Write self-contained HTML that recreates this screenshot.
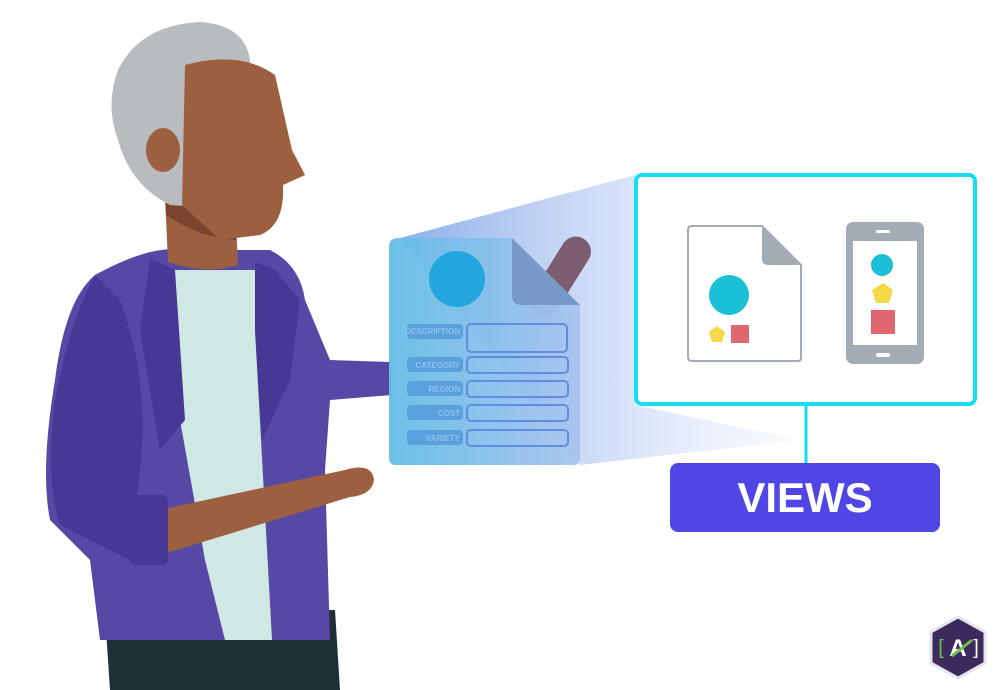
<!DOCTYPE html>
<html><head><style>body{margin:0;background:#fff}svg{display:block}</style></head><body>
<svg width="1001" height="690" viewBox="0 0 1001 690" xmlns="http://www.w3.org/2000/svg" font-family="Liberation Sans, sans-serif">
<defs>
<linearGradient id="beam" x1="0" y1="0" x2="1" y2="0"><stop offset="0" stop-color="#7fa6e8" stop-opacity="0.9"/><stop offset="1" stop-color="#c8d4f8" stop-opacity="0.1"/></linearGradient>
<linearGradient id="form" x1="0" y1="0" x2="1" y2="0"><stop offset="0" stop-color="#63bde6"/><stop offset="1" stop-color="#a9c3ef"/></linearGradient>
</defs>
<!-- beam -->
<polygon points="400,238 635,175 635,405 800,440 580,465" fill="url(#beam)"/>
<!-- pants -->
<polygon points="105,615 335,610 340,690 110,690" fill="#1e3035"/>
<!-- jacket body -->
<path d="M95,275 Q150,245 180,250 L270,250 Q300,265 305,300 L330,360 L390,362 L392,395 L330,400 L325,470 L330,640 L100,640 L90,560 L50,520 Q40,470 55,380 Q65,300 95,275 Z" fill="#5748a6"/>
<path d="M95,275 Q70,320 55,400 Q45,480 60,525 L130,560 L140,470 Q150,380 120,300 Z" fill="#473896"/>
<!-- shirt -->
<polygon points="170,270 265,270 255,330 272,640 225,640 205,560 180,420 175,340" fill="#cfe8e4"/>
<!-- lapels -->
<polygon points="150,258 175,270 185,420 160,450 140,330" fill="#473896"/>
<polygon points="255,262 275,270 300,300 290,380 262,440 255,330" fill="#473896"/>
<!-- neck -->
<path d="M165,195 L235,200 L238,265 Q205,275 168,262 Z" fill="#9c5f3f"/>
<path d="M165,195 L235,200 L236,240 Q200,238 166,215 Z" fill="#7a4430"/>
<!-- hair -->
<path d="M118,70 Q140,25 200,22 Q245,25 250,60 L240,210 L170,205 Q130,185 118,140 Q105,105 118,70 Z" fill="#b9bcbf"/>
<!-- face -->
<path d="M185,65 Q240,50 275,75 L292,150 L305,175 L283,185 Q285,225 260,235 L220,240 L182,205 Z" fill="#9c5f3f"/>
<ellipse cx="163" cy="150" rx="17" ry="22" fill="#9c5f3f"/>
<!-- lower arm -->
<path d="M150,512 L345,470 Q372,462 374,480 Q372,495 350,497 L160,555 Z" fill="#9c5f3f"/>
<rect x="130" y="495" width="38" height="70" rx="6" fill="#473896"/>
<!-- thumb behind form -->
<rect x="545" y="232" width="30" height="90" rx="15" transform="rotate(32 560 277)" fill="#7d5e70"/>
<!-- form -->
<path d="M398,238 L512,238 L580,305 L580,458 Q580,465 573,465 L396,465 Q389,465 389,458 L389,247 Q389,238 398,238 Z" fill="url(#form)" opacity="0.95"/>
<path d="M512,238 L580,305 L522,305 Q512,305 512,295 Z" fill="#7899c8"/>
<circle cx="457" cy="279" r="28" fill="#22a6dd"/>
<g fill="#5aa0dc"><rect x="407" y="324" width="56" height="15" rx="4"/><rect x="407" y="357" width="56" height="15" rx="4"/><rect x="407" y="381" width="56" height="15" rx="4"/><rect x="407" y="405" width="56" height="15" rx="4"/><rect x="407" y="430" width="56" height="15" rx="4"/></g>
<g fill="none" stroke="#5f8ee0" stroke-width="2"><rect x="467" y="324" width="100" height="28" rx="4"/><rect x="467" y="357" width="101" height="16" rx="4"/><rect x="467" y="381" width="101" height="16" rx="4"/><rect x="467" y="405" width="101" height="16" rx="4"/><rect x="467" y="430" width="101" height="16" rx="4"/></g>
<g fill="#8cc0ee" font-size="8" font-weight="bold" text-anchor="end"><text x="460" y="334">DESCRIPTION</text><text x="460" y="368">CATEGORY</text><text x="460" y="392">REGION</text><text x="460" y="416">COST</text><text x="460" y="441">VARIETY</text></g>
<!-- box -->
<rect x="636" y="175" width="339" height="229" rx="6" fill="#fff" stroke="#16def0" stroke-width="4"/>
<line x1="806" y1="405" x2="806" y2="464" stroke="#16def0" stroke-width="3"/>
<rect x="670" y="463" width="270" height="69" rx="8" fill="#4f46e5"/>
<text x="805" y="512" fill="#fff" font-size="42" font-weight="bold" text-anchor="middle">VIEWS</text>
<!-- doc icon -->
<path d="M692,226 L762,226 L801,265 L801,358 Q801,361 798,361 L692,361 Q688,361 688,357 L688,230 Q688,226 692,226 Z" fill="#fff" stroke="#a3abb5" stroke-width="2"/>
<path d="M762,226 L801,265 L768,265 Q762,265 762,259 Z" fill="#a3abb5"/>
<circle cx="729" cy="295" r="20" fill="#1bbfd6"/>
<polygon points="717,326 725,332 722,342 712,342 709,332" fill="#f5d848"/>
<rect x="731" y="325" width="18" height="18" fill="#e06770"/>
<!-- phone -->
<rect x="846" y="222" width="78" height="142" rx="7" fill="#a3abb5"/>
<rect x="853" y="241" width="64" height="104" fill="#fff"/>
<rect x="876" y="230" width="14" height="3" rx="1.5" fill="#fff"/>
<rect x="876" y="353" width="14" height="4" rx="2" fill="#fff"/>
<circle cx="882" cy="265" r="11" fill="#1bbfd6"/>
<polygon points="883,283 893,290 889,303 876,303 872,290" fill="#f5d848"/>
<rect x="871" y="310" width="24" height="24" fill="#e06770"/>
<!-- logo -->
<polygon points="958,617 985,632 985,663 958,678 931,663 931,632" fill="#3d2a5c" stroke="#e4e4ec" stroke-width="3"/>
<text x="958" y="656" fill="#fff" font-size="24" font-weight="bold" text-anchor="middle">A</text>
<text x="941" y="654" fill="#6cc04a" font-size="20" text-anchor="middle">[</text>
<text x="976" y="654" fill="#fff" font-size="20" text-anchor="middle">]</text>
<path d="M952,656 L972,640" stroke="#6cc04a" stroke-width="3"/>
</svg>
</body></html>
